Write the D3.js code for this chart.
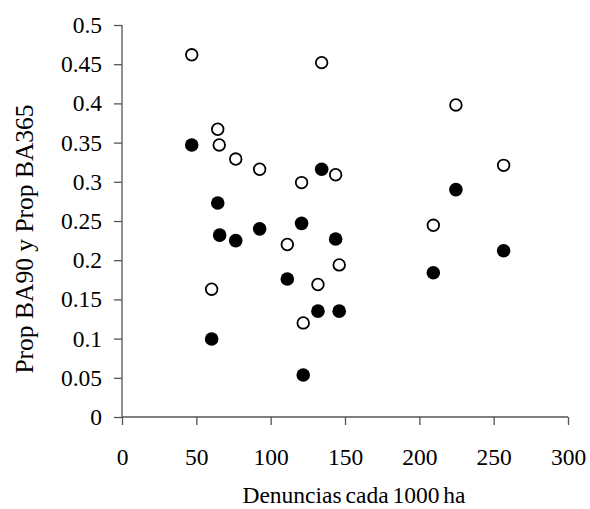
<!DOCTYPE html>
<html>
<head>
<meta charset="utf-8">
<script src="https://cdn.jsdelivr.net/npm/d3@7"></script>
<style>
  body { margin: 0; background: #fff; }
  svg text { font-family: "Liberation Serif", "Times New Roman", serif; fill: #000; }
</style>
</head>
<body>
<svg width="590" height="509"></svg>
<script>
// Denuncias cada 1000 ha
var denuncias = [46.9, 60.3, 64.4, 65.4, 76.5, 92.6, 111.2, 120.8, 121.9, 131.8, 134.3, 143.7, 146.1, 209.4, 224.6, 256.7];
// Prop BA365 (open circles)
var propBA365 = [0.462, 0.163, 0.367, 0.347, 0.329, 0.316, 0.220, 0.299, 0.120, 0.169, 0.452, 0.309, 0.194, 0.2445, 0.398, 0.321];
// Prop BA90 (filled circles)
var denuncias90 = [46.9, 60.3, 64.4, 65.7, 76.5, 92.6, 111.2, 120.8, 121.9, 131.8, 134.3, 143.7, 146.1, 209.4, 224.6, 256.7];
var propBA90 = [0.347, 0.0995, 0.273, 0.232, 0.225, 0.240, 0.176, 0.247, 0.0536, 0.135, 0.316, 0.227, 0.135, 0.184, 0.290, 0.212];

var xTicks = [0, 50, 100, 150, 200, 250, 300];
var yTicks = [0, 0.05, 0.1, 0.15, 0.2, 0.25, 0.3, 0.35, 0.4, 0.45, 0.5];

var svg = d3.select("svg"),
    margin = {top: 25, right: 22, bottom: 92, left: 122},
    width = +svg.attr("width") - margin.left - margin.right,
    height = +svg.attr("height") - margin.top - margin.bottom;

var x = d3.scaleLinear().domain([0, 300]).range([0, width]),
    y = d3.scaleLinear().domain([0, 0.5]).range([height, 0]);

var g = svg.append("g")
    .attr("transform", "translate(" + margin.left + "," + margin.top + ")");

var xAxis = d3.axisBottom(x).tickValues(xTicks).tickSize(8).tickPadding(23)
    .tickFormat(function(d) { return d; });
var yAxis = d3.axisLeft(y).tickValues(yTicks).tickSize(8).tickPadding(12)
    .tickFormat(function(d) { return +d.toFixed(2); });

g.append("g")
    .attr("class", "axis axis--x")
    .attr("transform", "translate(0," + height + ")")
    .call(xAxis);

g.append("g")
    .attr("class", "axis axis--y")
    .call(yAxis);

g.selectAll(".axis path, .axis line").attr("stroke", "#555").attr("stroke-width", 1.3);
g.selectAll(".axis .domain").attr("d", function() {
    return d3.select(this.parentNode).classed("axis--x") ? "M0,0H" + width : "M0,0V" + height;
});
g.selectAll(".axis").attr("font-size", null).attr("font-family", null);
g.selectAll(".axis text").style("font-size", "23.5px");
g.selectAll(".axis--x .tick text").attr("dy", "0.71em");

// text label for the x axis
svg.append("text")
    .attr("x", 354)
    .attr("y", 503)
    .style("text-anchor", "middle")
    .style("font-size", "23.5px")
    .style("word-spacing", "-2px")
    .text("Denuncias cada 1000 ha");

// text label for the y axis
svg.append("text")
    .attr("transform", "translate(33,239) rotate(-90)")
    .style("text-anchor", "middle")
    .style("font-size", "25.5px")
    .text("Prop BA90 y Prop BA365");

// open circles
g.selectAll(".open")
    .data(propBA365)
    .enter().append("circle")
    .attr("class", "open")
    .attr("cx", function(d, i) { return x(denuncias[i]); })
    .attr("cy", function(d) { return y(d); })
    .attr("r", 5.8)
    .attr("fill", "#fff")
    .attr("stroke", "#000")
    .attr("stroke-width", 1.8);

// filled circles
g.selectAll(".filled")
    .data(propBA90)
    .enter().append("circle")
    .attr("class", "filled")
    .attr("cx", function(d, i) { return x(denuncias90[i]); })
    .attr("cy", function(d) { return y(d); })
    .attr("r", 6.8)
    .attr("fill", "#000");
</script>
</body>
</html>
